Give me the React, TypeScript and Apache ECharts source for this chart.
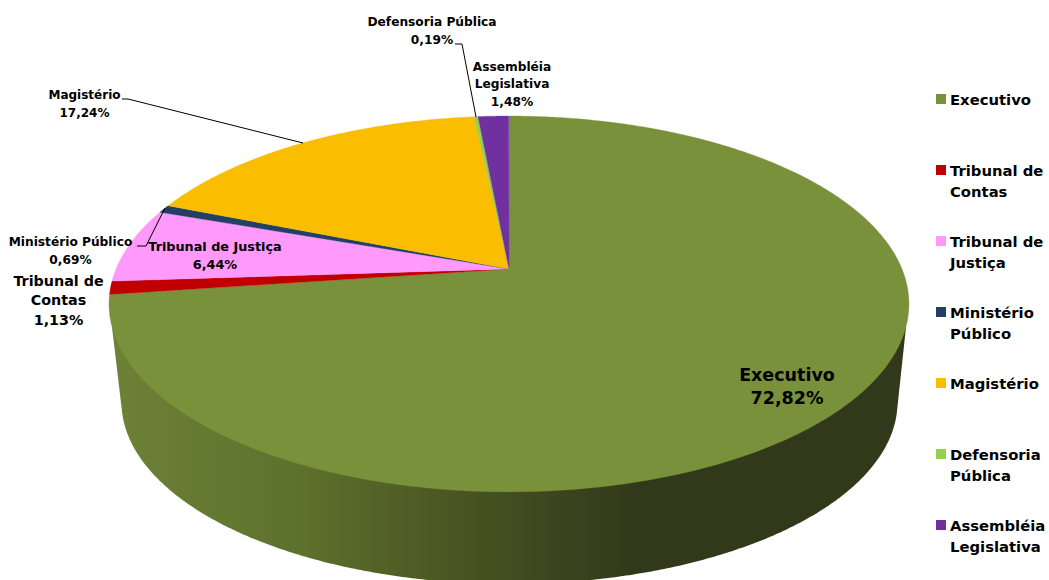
import React, { useEffect, useRef } from "react";
import * as echarts from "echarts";

const names = ["Executivo", "Tribunal de Contas", "Tribunal de Justiça", "Ministério Público", "Magistério", "Defensoria Pública", "Assembléia Legislativa"];
const shares = [72.82, 1.13, 6.44, 0.69, 17.24, 0.19, 1.48];
const colors = ["#78913a", "#c00000", "#ff99fb", "#234064", "#fbbd00", "#92d050", "#7030a0"];
const legendLines = [["Executivo"], ["Tribunal de", "Contas"], ["Tribunal de", "Justiça"], ["Ministério", "Público"], ["Magistério"], ["Defensoria", "Pública"], ["Assembléia", "Legislativa"]];
const labelLines = [["Executivo"], ["Tribunal de", "Contas"], ["Tribunal de Justiça"], ["Ministério Público"], ["Magistério"], ["Defensoria Pública"], ["Assembléia", "Legislativa"]];

const FONT = "'DejaVu Sans', sans-serif";
const labelLayout = [
  { x: 787, y: 386.5, size: 17.5, lh: 23 },
  { x: 58.5, y: 300, size: 14.3, lh: 19.5 },
  { x: 215, y: 255.5, size: 12.8, lh: 18 },
  { x: 70.5, y: 250.5, size: 12.2, lh: 18 },
  { x: 84.5, y: 104, size: 12, lh: 17.5 },
  { x: 432, y: 30.5, size: 12.2, lh: 18 },
  { x: 512, y: 84, size: 12.2, lh: 17.5 },
];
const leaders: number[][][] = [
  [[122, 99], [128, 99], [303, 143]],
  [[137, 246], [146, 246], [165, 208]],
  [[455, 44], [462, 44], [476, 117]],
];

// projective view of the pie's top face
const APEX = { x: 509, y: 269 };
const K = 393, A = -131.4, C = 0.186;
function project(deg: number) {
  const t = (deg * Math.PI) / 180;
  const u = Math.sin(t), v = Math.cos(t), d = C * v + 1;
  return [APEX.x + (K * u) / d, (A * v + APEX.y) / d];
}

function fmt(v: number) {
  return v.toFixed(2).replace(".", ",") + "%";
}

function sliceData() {
  let cum = 0;
  return shares.map((s, i) => {
    const start = cum;
    cum += s;
    return [start, cum, i];
  });
}

const TOP = { cx: 509, cy: 304, rx: 400, ry: 188 };
const BOTTOM = { cx: 509.5, cy: 402, rx: 388, ry: 182 };
const WALL_STOPS = [
  { offset: 0, color: "#6d8236" },
  { offset: 0.24, color: "#5c712c" },
  { offset: 0.36, color: "#515f26" },
  { offset: 0.49, color: "#434e20" },
  { offset: 0.66, color: "#32381a" },
  { offset: 1, color: "#32381a" },
];

function wallPoints() {
  const pts: number[][] = [[TOP.cx - TOP.rx * 0.9925, 327]];
  const a0 = Math.asin((413 - BOTTOM.cy) / BOTTOM.ry);
  for (let t = Math.PI - a0; t >= a0; t -= Math.PI / 360) {
    pts.push([BOTTOM.cx + BOTTOM.rx * Math.cos(t), BOTTOM.cy + BOTTOM.ry * Math.sin(t)]);
  }
  pts.push([BOTTOM.cx + BOTTOM.rx * Math.cos(a0), BOTTOM.cy + BOTTOM.ry * Math.sin(a0)]);
  pts.push([TOP.cx + TOP.rx * 0.9925, 327]);
  return pts;
}

export default function App() {
  const ref = useRef<HTMLDivElement>(null);
  useEffect(() => {
    document.body.style.margin = "0";
    const chart = echarts.init(ref.current!, undefined, { renderer: "svg" });
    const labels = names.map((_, i) => ({
      type: "text",
      x: labelLayout[i].x,
      y: labelLayout[i].y,
      z: 10,
      style: {
        text: [...labelLines[i], fmt(shares[i])].join("\n"),
        fill: "#000",
        font: `bold ${labelLayout[i].size}px ${FONT}`,
        lineHeight: labelLayout[i].lh,
        align: "center",
        verticalAlign: "middle",
      },
    }));
    const lines = leaders.map((points) => ({
      type: "polyline",
      z: 9,
      shape: { points },
      style: { stroke: "#000", lineWidth: 1, fill: "none" },
    }));
    const legend = names.flatMap((_, i) => {
      const y = 99 + 71 * i;
      return [
        { type: "rect", z: 10, shape: { x: 936, y: y - 5, width: 10, height: 10 }, style: { fill: colors[i] } },
        {
          type: "text",
          x: 950,
          y: y - 10,
          z: 10,
          style: {
            text: legendLines[i].join("\n"),
            fill: "#000",
            font: `bold 14.8px ${FONT}`,
            lineHeight: 21,
            align: "left",
            verticalAlign: "top",
          },
        },
      ];
    });
    chart.setOption({
      animation: false,
      backgroundColor: "#fff",
      graphic: { elements: [...lines, ...labels, ...legend] },
      series: [
        {
          type: "custom",
          coordinateSystem: "none",
          silent: true,
          data: [[0]],
          z: 1,
          renderItem: () => ({
            type: "polygon",
            shape: { points: wallPoints() },
            style: { fill: new echarts.graphic.LinearGradient(0, 0, 1, 0, WALL_STOPS) },
          }),
        },
        {
          type: "custom",
          coordinateSystem: "none",
          silent: true,
          data: sliceData(),
          z: 2,
          renderItem: (_: any, api: any) => {
            const a0 = (api.value(0) / 100) * 360;
            const a1 = (api.value(1) / 100) * 360;
            const points: number[][] = [[APEX.x, APEX.y]];
            const steps = Math.max(2, Math.ceil((a1 - a0) * 2));
            for (let s = 0; s <= steps; s++) points.push(project(a0 + ((a1 - a0) * s) / steps));
            return {
              type: "polygon",
              shape: { points },
              style: { fill: colors[api.value(2)], stroke: colors[api.value(2)], lineWidth: 0.3 },
            };
          },
        },
      ],
    });
    return () => chart.dispose();
  }, []);
  return <div ref={ref} style={{ width: 1049, height: 580 }} />;
}
